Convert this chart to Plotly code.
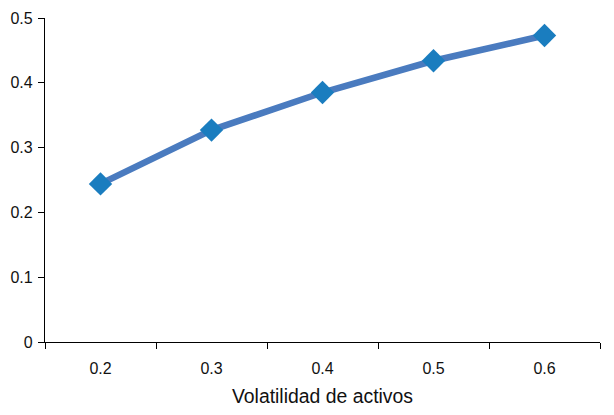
import plotly.graph_objects as go

categories = ["0.2", "0.3", "0.4", "0.5", "0.6"]
values = [0.244, 0.327, 0.385, 0.434, 0.473]
y_ticks = [0, 0.1, 0.2, 0.3, 0.4, 0.5]
y_tick_labels = ["0", "0.1", "0.2", "0.3", "0.4", "0.5"]
x_title = "Volatilidad de activos"

fig = go.Figure()
fig.add_trace(go.Scatter(
    x=categories, y=values, mode="lines+markers",
    line=dict(color="#4a7bbf", width=6.5),
    marker=dict(symbol="diamond", size=18, color="#1a7dbf"),
    cliponaxis=False, showlegend=False,
))
fig.update_layout(
    width=598, height=399,
    margin=dict(l=37, r=6, t=10, b=65),
    plot_bgcolor="white", paper_bgcolor="white",
    font=dict(family="Liberation Sans, Arial, sans-serif", color="#111", size=16),
)
fig.update_xaxes(
    type="category", range=[-0.5, 4.5], automargin=False,
    showline=True, linecolor="black", linewidth=1.3,
    ticks="outside", tickson="boundaries", ticklen=6, tickcolor="black", tickwidth=1.3,
    ticklabelstandoff=12,
    showgrid=False, zeroline=False,
    title=dict(text=x_title, font=dict(size=19.4), standoff=16),
)
fig.update_yaxes(
    range=[0, 0.5], tickvals=y_ticks, ticktext=y_tick_labels, automargin=False,
    showline=True, linecolor="black", linewidth=1.3,
    ticks="outside", ticklen=6, tickcolor="black", tickwidth=1.3,
    ticklabelstandoff=2,
    showgrid=False, zeroline=False,
)
fig.write_html("out.html")
